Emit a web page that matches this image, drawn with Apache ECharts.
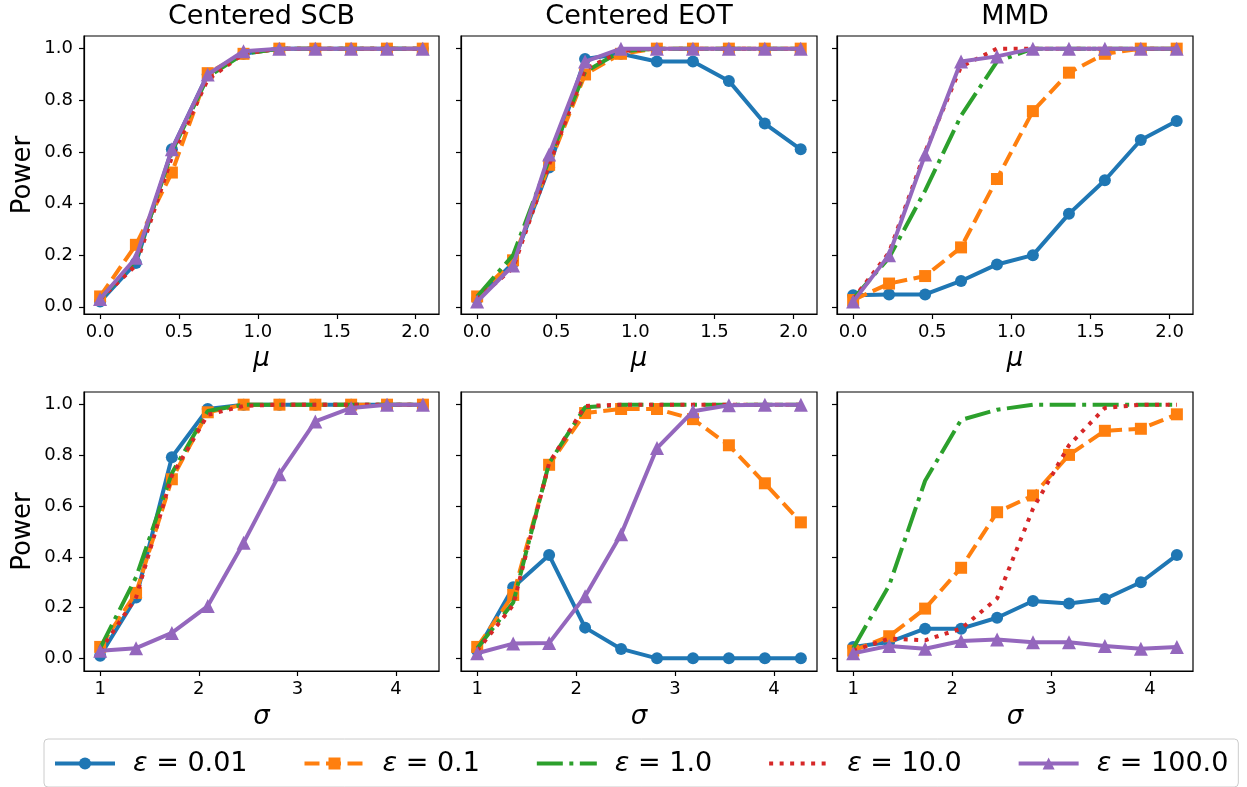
<!DOCTYPE html>
<html><head><meta charset="utf-8">
<script src="https://cdn.jsdelivr.net/npm/echarts@6/dist/echarts.min.js"></script>
<style>html,body{margin:0;padding:0;background:#fff}#c{width:1247px;height:787px}</style>
</head><body><div id="c"></div>
<script>
// ---------- data ----------
const muValues = [0, 0.227, 0.455, 0.682, 0.909, 1.136, 1.364, 1.591, 1.818, 2.045];
const sigmaValues = [1, 1.364, 1.727, 2.091, 2.455, 2.818, 3.182, 3.545, 3.909, 4.273];
const epsLabels = ['0.01', '0.1', '1.0', '10.0', '100.0'];
const panelTitles = ['Centered SCB', 'Centered EOT', 'MMD'];
const yTicks = [0, 0.2, 0.4, 0.6, 0.8, 1.0];
const muTicks = [0, 0.5, 1.0, 1.5, 2.0];
const sigmaTicks = [1, 2, 3, 4];

// rows: eps = 0.01, 0.1, 1.0, 10.0, 100.0
const scbMu = [
  [0.02, 0.17, 0.61, 0.90, 0.98, 1, 1, 1, 1, 1],
  [0.04, 0.24, 0.52, 0.905, 0.98, 1, 1, 1, 1, 1],
  [0.03, 0.18, 0.60, 0.89, 0.98, 1, 1, 1, 1, 1],
  [0.03, 0.16, 0.58, 0.88, 0.98, 1, 1, 1, 1, 1],
  [0.03, 0.19, 0.61, 0.90, 0.99, 1, 1, 1, 1, 1]
];
const eotMu = [
  [0.03, 0.17, 0.54, 0.96, 0.98, 0.95, 0.95, 0.875, 0.71, 0.61],
  [0.04, 0.18, 0.55, 0.90, 0.98, 1, 1, 1, 1, 1],
  [0.04, 0.20, 0.57, 0.91, 0.99, 1, 1, 1, 1, 1],
  [0.03, 0.15, 0.55, 0.92, 0.99, 1, 1, 1, 1, 1],
  [0.02, 0.16, 0.59, 0.95, 1.0, 1, 1, 1, 1, 1]
];
const mmdMu = [
  [0.045, 0.048, 0.048, 0.10, 0.164, 0.20, 0.36, 0.49, 0.646, 0.72],
  [0.026, 0.09, 0.119, 0.23, 0.495, 0.758, 0.907, 0.98, 1, 1],
  [0.03, 0.19, 0.45, 0.74, 0.95, 1, 1, 1, 1, 1],
  [0.03, 0.21, 0.60, 0.93, 1, 1, 1, 1, 1, 1],
  [0.02, 0.20, 0.59, 0.95, 0.97, 1, 1, 1, 1, 1]
];
const scbSigma = [
  [0.01, 0.24, 0.793, 0.983, 1, 1, 1, 1, 1, 1],
  [0.045, 0.258, 0.706, 0.97, 1, 1, 1, 1, 1, 1],
  [0.04, 0.32, 0.73, 0.975, 1, 1, 1, 1, 1, 1],
  [0.03, 0.24, 0.72, 0.96, 0.995, 1, 1, 1, 1, 1],
  [0.03, 0.04, 0.10, 0.206, 0.456, 0.726, 0.934, 0.987, 1, 1]
];
const eotSigma = [
  [0.03, 0.28, 0.407, 0.121, 0.037, 0, 0, 0, 0, 0],
  [0.045, 0.25, 0.763, 0.967, 0.983, 0.983, 0.943, 0.84, 0.69, 0.536],
  [0.04, 0.22, 0.77, 0.99, 1, 1, 1, 1, 1, 1],
  [0.03, 0.21, 0.77, 0.995, 1, 1, 1, 1, 1, 1],
  [0.02, 0.058, 0.06, 0.245, 0.489, 0.829, 0.974, 0.998, 1, 1]
];
const mmdSigma = [
  [0.045, 0.064, 0.117, 0.117, 0.16, 0.226, 0.216, 0.234, 0.30, 0.407],
  [0.03, 0.087, 0.196, 0.357, 0.576, 0.642, 0.802, 0.897, 0.905, 0.962],
  [0.04, 0.288, 0.70, 0.94, 0.98, 1, 1, 1, 1, 1],
  [0.03, 0.078, 0.071, 0.117, 0.236, 0.59, 0.84, 0.987, 1, 1],
  [0.02, 0.049, 0.038, 0.068, 0.074, 0.063, 0.063, 0.049, 0.038, 0.045]
];

// ---------- styles ----------
const FONT = 'DejaVu Sans';
const colors = ['#1f77b4', '#ff7f0e', '#2ca02c', '#d62728', '#9467bd'];
const dashes = ['solid', [15, 6.5], [26, 6.5, 4, 6.5], [4, 6.5], 'solid'];
const symbols = ['circle', 'rect', 'none', 'none', 'triangle'];
const symbolSizes = [12, 12, 0, 0, 14];

const cols = [{ left: 84, width: 355 }, { left: 461, width: 356 }, { left: 837, width: 356 }];
const rows = [{ top: 36, height: 278 }, { top: 392, height: 279 }];

const panels = [
  { row: 0, col: 0, data: scbMu }, { row: 0, col: 1, data: eotMu }, { row: 0, col: 2, data: mmdMu },
  { row: 1, col: 0, data: scbSigma }, { row: 1, col: 1, data: eotSigma }, { row: 1, col: 2, data: mmdSigma }
];

const grid = [], xAxis = [], yAxis = [], series = [];
panels.forEach((p, pi) => {
  const c = cols[p.col], r = rows[p.row];
  grid.push({ left: c.left, width: c.width, top: r.top, height: r.height, show: true,
    borderColor: '#000', borderWidth: 1.2, backgroundColor: 'transparent' });
  const isMu = p.row === 0;
  xAxis.push({
    type: 'value', gridIndex: pi,
    min: isMu ? -0.102 : 0.836, max: isMu ? 2.148 : 4.436,
    name: isMu ? 'μ' : 'σ', nameLocation: 'middle', nameGap: isMu ? 32 : 33,
    nameTextStyle: { fontFamily: FONT, fontSize: 26, fontStyle: 'italic', color: '#000' },
    axisLine: { show: true, onZero: false, lineStyle: { color: '#000', width: 1.2 } },
    axisTick: { show: true, inside: false, length: 5, lineStyle: { color: '#000', width: 1.2 },
      customValues: isMu ? muTicks : sigmaTicks },
    axisLabel: { show: true, fontFamily: FONT, fontSize: 18, color: '#000', margin: 9,
      customValues: isMu ? muTicks : sigmaTicks,
      formatter: v => isMu ? v.toFixed(1) : String(Math.round(v)) },
    splitLine: { show: false }
  });
  yAxis.push({
    type: 'value', gridIndex: pi,
    min: isMu ? -0.028 : -0.05, max: isMu ? 1.049 : 1.05,
    name: p.col === 0 ? 'Power' : '', nameLocation: 'middle', nameGap: 48, nameRotate: 90,
    nameTextStyle: { fontFamily: FONT, fontSize: 26, color: '#000' },
    axisLine: { show: true, onZero: false, lineStyle: { color: '#000', width: 1.2 } },
    axisTick: { show: true, inside: false, length: 5, lineStyle: { color: '#000', width: 1.2 },
      customValues: yTicks },
    axisLabel: { show: p.col === 0, fontFamily: FONT, fontSize: 18, color: '#000', margin: 11,
      customValues: yTicks, formatter: v => v.toFixed(1) },
    splitLine: { show: false }
  });
  const xs = isMu ? muValues : sigmaValues;
  for (let k = 0; k < 5; k++) {
    series.push({
      type: 'line', name: 'ε = ' + epsLabels[k], xAxisIndex: pi, yAxisIndex: pi,
      data: xs.map((x, i) => [x, p.data[k][i]]),
      symbol: symbols[k], symbolSize: symbolSizes[k], showSymbol: symbols[k] !== 'none',
      lineStyle: { color: colors[k], width: 4, type: dashes[k] },
      itemStyle: { color: colors[k] },
      z: 2 + k, silent: true, clip: false,
      emphasis: { disabled: true }
    });
  }
});

const graphic = panelTitles.map((t, i) => ({
  type: 'text', x: cols[i].left + cols[i].width / 2, y: 3,
  style: { text: t, align: 'center', verticalAlign: 'top', fontFamily: FONT, fontSize: 27, fill: '#000' }
}));

const legendData = epsLabels.map((e, k) => ({
  name: 'ε = ' + e,
  lineStyle: { color: colors[k], width: 4, type: dashes[k] },
  itemStyle: symbols[k] === 'none' ? { opacity: 0 } : { color: colors[k] }
}));

const chart = echarts.init(document.getElementById('c'), null, { renderer: 'canvas' });
chart.setOption({
  animation: false,
  backgroundColor: '#fff',
  textStyle: { fontFamily: FONT },
  grid, xAxis, yAxis, series, graphic,
  legend: {
    left: 44, top: 739, width: 1195,
    data: legendData,
    itemWidth: 60, itemHeight: 15, itemGap: 55,
    padding: [11, 10, 10, 9],
    borderColor: '#cccccc', borderWidth: 1, borderRadius: 4,
    selectedMode: false,
    formatter: name => name.replace('ε', '{e|ε}'),
    textStyle: { fontFamily: FONT, fontSize: 27, color: '#000', padding: [0, 0, 0, 13],
      rich: { e: { fontFamily: FONT, fontSize: 27, fontStyle: 'italic', color: '#000' } } }
  }
});
</script>
</body></html>
